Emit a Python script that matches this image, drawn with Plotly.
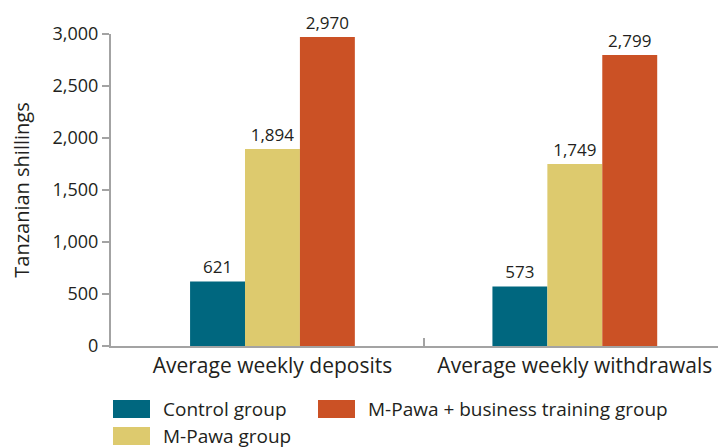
import plotly.graph_objects as go

categories = ["Average weekly deposits", "Average weekly withdrawals"]
series_names = ["Control group", "M-Pawa group", "M-Pawa + business training group"]
control = [621, 573]
mpawa = [1894, 1749]
mpawa_training = [2970, 2799]
series_values = [control, mpawa, mpawa_training]
colors = ["#00677F", "#DDCA6E", "#CB5125"]
y_ticks = [0, 500, 1000, 1500, 2000, 2500, 3000]

FONT = "Open Sans"
TXT = "#231f20"
AX = "#a3a3a3"

# page offset of the plot div (body margin)
OFF = 8
W, H = 726 - OFF, 447 - OFF
L, R, T, B = 111 - OFF, 0, 34 - OFF, 101
PW, PH = W - L - R, H - T - B

fig = go.Figure()
xpos = list(range(len(categories)))
for name, vals, col in zip(series_names, series_values, colors):
    fig.add_trace(go.Bar(
        x=xpos, y=vals, name=name, marker=dict(color=col, line=dict(width=0)),
        texttemplate="%{y:,}", textposition="outside", cliponaxis=False,
        textfont=dict(family=FONT, size=17, color=TXT), showlegend=False,
    ))

fig.add_trace(go.Scatter(x=[0.5], y=[0], xaxis="x2", mode="markers",
                         marker=dict(opacity=0), hoverinfo="skip", showlegend=False))

fig.update_layout(
    width=W, height=H,
    margin=dict(l=L, r=R, t=T, b=B, pad=0),
    paper_bgcolor="white", plot_bgcolor="white",
    barmode="group", bargap=0.455, bargroupgap=0,
    font=dict(family=FONT, color=TXT),
    xaxis=dict(
        range=[-0.534, 1.5], tickvals=xpos, ticktext=categories,
        tickfont=dict(family=FONT, size=21, color=TXT),
        showline=True, linecolor=AX, linewidth=2, ticks="", showgrid=False,
        zeroline=False,
    ),
    xaxis2=dict(
        overlaying="x", matches="x", side="bottom", anchor="y",
        tickvals=[0.5], showticklabels=False, ticks="inside", ticklen=8,
        tickcolor=AX, tickwidth=2, showgrid=False, zeroline=False, showline=False,
    ),
    yaxis=dict(
        range=[0, 3000], tickvals=y_ticks, tickformat=",",
        tickfont=dict(family=FONT, size=18, color=TXT),
        showline=True, linecolor=AX, linewidth=2, ticks="outside", ticklen=7,
        tickcolor=AX, tickwidth=2, showgrid=False, zeroline=False,
        title=dict(text="Tanzanian shillings", font=dict(family=FONT, size=20, color=TXT), standoff=20),
    ),
    showlegend=False,
)

def px_x(px):
    return (px - OFF - L) / PW

def px_y(py):
    return (H - (py - OFF) - B) / PH

# manual legend (swatches + labels), page pixel positions
legend_order = [0, 2, 1]
legend_pos = [(113, 409), (318, 409), (113, 436)]
for idx, (px, py) in zip(legend_order, legend_pos):
    fig.add_shape(type="rect", xref="paper", yref="paper",
                  x0=px_x(px), x1=px_x(px + 37), y0=px_y(py + 9), y1=px_y(py - 9),
                  fillcolor=colors[idx], line=dict(width=0))
    fig.add_annotation(xref="paper", yref="paper", x=px_x(px + 48), y=px_y(py),
                       text=series_names[idx], showarrow=False, xanchor="left", yanchor="middle",
                       font=dict(family=FONT, size=19, color=TXT))

fig.write_html("out.html")
